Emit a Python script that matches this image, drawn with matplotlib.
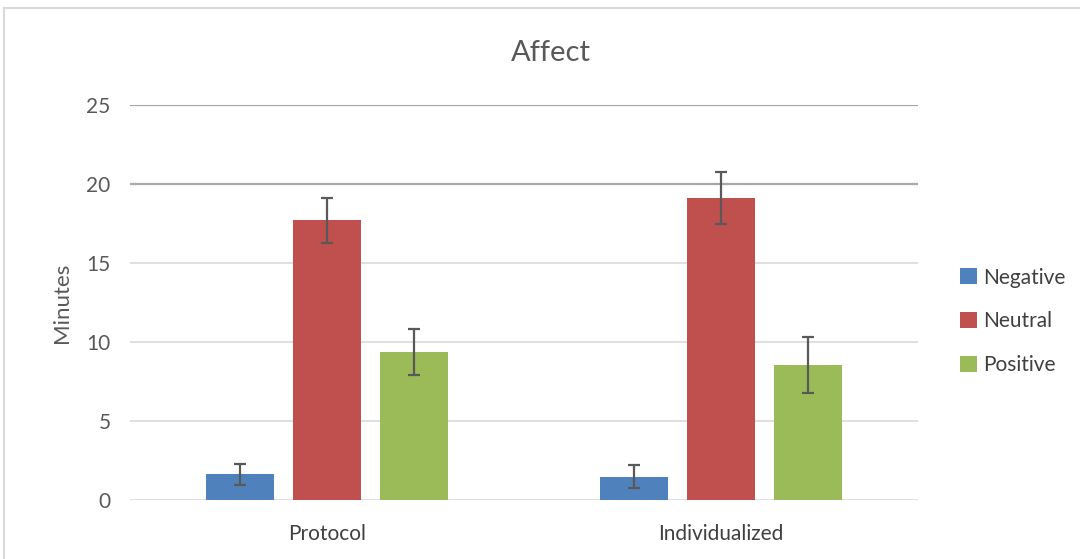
import matplotlib.pyplot as plt
import numpy as np

# data
groups = ['Protocol', 'Individualized']
series = ['Negative', 'Neutral', 'Positive']
means = {'Negative': [1.62, 1.48], 'Neutral': [17.7, 19.1], 'Positive': [9.35, 8.55]}
errs = {'Negative': [0.69, 0.72], 'Neutral': [1.43, 1.63], 'Positive': [1.45, 1.78]}
colors = {'Negative': '#4F81BD', 'Neutral': '#C0504D', 'Positive': '#9BBB59'}
yticks = [0, 5, 10, 15, 20, 25]

plt.rcParams['font.family'] = ['Lato', 'DejaVu Sans']

fig = plt.figure(figsize=(10.8, 5.59), dpi=100)
ax = fig.add_axes([0.1204, 0.1055, 0.7296, 0.7067])

x = np.arange(len(groups))
width = 0.173
offsets = [-0.22, 0, 0.22]

# gridlines (top two look heavier in the original)
for t in yticks:
    if t >= 20:
        ax.axhline(t, color='#a6a6a6', lw=1.6, zorder=0)
    else:
        ax.axhline(t, color='#d9d9d9', lw=1.2, zorder=0)

for s, off in zip(series, offsets):
    ax.bar(x + off, means[s], width, color=colors[s], label=s, zorder=2)
    ax.errorbar(x + off, means[s], yerr=errs[s], fmt='none', ecolor='#595959',
                elinewidth=1.6, capsize=4, capthick=1.6, zorder=3)

ax.set_xlim(-0.5, 1.5)
ax.set_ylim(0, 25)
ax.set_yticks(yticks)
ax.set_xticks(x)
ax.set_xticklabels(groups, fontsize=15, color='#404040')
ax.tick_params(axis='y', labelsize=15, labelcolor='#595959', length=0, pad=14)
ax.tick_params(axis='x', length=0, pad=17)
for sp in ax.spines.values():
    sp.set_visible(False)

ax.set_ylabel('Minutes', fontsize=16, color='#595959', labelpad=10)
fig.text(0.510, 0.905, 'Affect', fontsize=21, color='#595959', ha='center', va='center')

ax.legend(loc='center left', bbox_to_anchor=(1.03, 0.452), frameon=False, fontsize=15,
          labelcolor='#404040', handlelength=0.8, handleheight=0.8, handletextpad=0.3,
          labelspacing=1.15)

# chart border bits
fig.add_artist(plt.Line2D([0.004, 0.004], [0, 0.985], color='#d9d9d9', lw=1.5))
fig.add_artist(plt.Line2D([0.004, 1], [0.985, 0.985], color='#d9d9d9', lw=1.5))

fig.savefig('out.png', dpi=100)
